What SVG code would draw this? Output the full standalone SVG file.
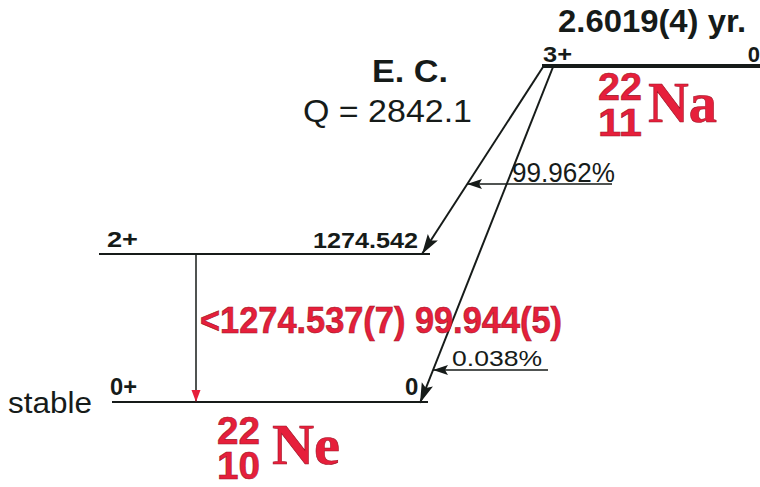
<svg xmlns="http://www.w3.org/2000/svg" width="760" height="487" viewBox="0 0 760 487">
<style>
.b{font-family:"Liberation Sans",Arial,sans-serif;font-weight:bold;fill:#161b19}
.n{font-family:"Liberation Sans",Arial,sans-serif;font-weight:normal;fill:#161b19}
.r{font-family:"Liberation Sans",Arial,sans-serif;font-weight:bold;fill:#e61f3b;stroke:#9e1426;stroke-width:0.6}
.rs{font-family:"Liberation Serif","Times New Roman",serif;font-weight:bold;fill:#e61f3b;stroke:#9e1426;stroke-width:0.6}
.lv{stroke:#161b19;fill:none}
.c{stroke:#161b19;fill:none}
</style>
<defs>
<marker id="big" markerUnits="userSpaceOnUse" markerWidth="22" markerHeight="14" refX="20" refY="6" orient="auto">
<path d="M0,0 L20,6 L0,12 L4,6 z" fill="#161b19"/>
</marker>
<marker id="small" markerUnits="userSpaceOnUse" markerWidth="16" markerHeight="11" refX="15" refY="5" orient="auto">
<path d="M0,0 L15,5 L0,10 L3,5 z" fill="#161b19"/>
</marker>
<marker id="red" markerUnits="userSpaceOnUse" markerWidth="13" markerHeight="10" refX="12" refY="4.5" orient="auto">
<path d="M0,0 L12,4.5 L0,9 z" fill="#e61f3b"/>
</marker>
</defs>

<g id="title">
<text class="b" x="372" y="82" font-size="32" textLength="76" lengthAdjust="spacingAndGlyphs">E. C.</text>
<text class="n" x="303" y="122" font-size="32" textLength="169" lengthAdjust="spacingAndGlyphs">Q = 2842.1</text>
</g>

<g id="level-na-3plus">
<line class="lv" x1="542" y1="66" x2="760" y2="66" stroke-width="4"/>
<text class="b" x="558" y="32" font-size="32" textLength="188" lengthAdjust="spacingAndGlyphs">2.6019(4) yr.</text>
<text class="b" x="543" y="62" font-size="22" textLength="29" lengthAdjust="spacingAndGlyphs">3+</text>
<text class="b" x="760" y="62" font-size="22" text-anchor="end">0</text>
<text class="r" x="598" y="100" font-size="39" textLength="44" lengthAdjust="spacingAndGlyphs">22</text>
<text class="r" x="598" y="136" font-size="39" textLength="44" lengthAdjust="spacingAndGlyphs">11</text>
<text class="rs" x="648" y="122" font-size="58" textLength="69" lengthAdjust="spacingAndGlyphs">Na</text>
</g>

<g id="level-ne-2plus">
<line class="lv" x1="99" y1="254" x2="430" y2="254" stroke-width="2"/>
<text class="b" x="107" y="247" font-size="22" textLength="31" lengthAdjust="spacingAndGlyphs">2+</text>
<text class="b" x="313" y="248" font-size="22" textLength="105" lengthAdjust="spacingAndGlyphs">1274.542</text>
</g>

<g id="level-ne-0plus">
<line class="lv" x1="112" y1="402" x2="428" y2="402" stroke-width="2"/>
<text class="b" x="110" y="395" font-size="24" textLength="27" lengthAdjust="spacingAndGlyphs">0+</text>
<text class="b" x="405" y="395" font-size="24">0</text>
<text class="n" x="8" y="413" font-size="30" textLength="84" lengthAdjust="spacingAndGlyphs">stable</text>
<text class="r" x="217" y="444" font-size="39" textLength="43" lengthAdjust="spacingAndGlyphs">22</text>
<text class="r" x="217" y="479" font-size="39" textLength="43" lengthAdjust="spacingAndGlyphs">10</text>
<text class="rs" x="272" y="464" font-size="58" textLength="68" lengthAdjust="spacingAndGlyphs">Ne</text>
</g>

<g id="connectors">
<line class="c" x1="543" y1="67" x2="422" y2="254" stroke-width="2" marker-end="url(#big)"/>
<line class="c" x1="553" y1="67" x2="420" y2="403" stroke-width="2" marker-end="url(#big)"/>
<line class="c" x1="612" y1="184" x2="467" y2="184" stroke-width="1.5" marker-end="url(#small)"/>
<line class="c" x1="548" y1="370" x2="433" y2="370" stroke-width="1.5" marker-end="url(#small)"/>
<line class="c" x1="196" y1="254" x2="196" y2="402" stroke-width="1.5" marker-end="url(#red)"/>
</g>

<g id="labels">
<text class="n" x="512" y="182" font-size="27" textLength="103" lengthAdjust="spacingAndGlyphs">99.962%</text>
<text class="n" x="452" y="366" font-size="22" textLength="90" lengthAdjust="spacingAndGlyphs">0.038%</text>
<text class="r" x="200" y="333" font-size="36" textLength="362" lengthAdjust="spacingAndGlyphs">&lt;1274.537(7) 99.944(5)</text>
</g>
</svg>
